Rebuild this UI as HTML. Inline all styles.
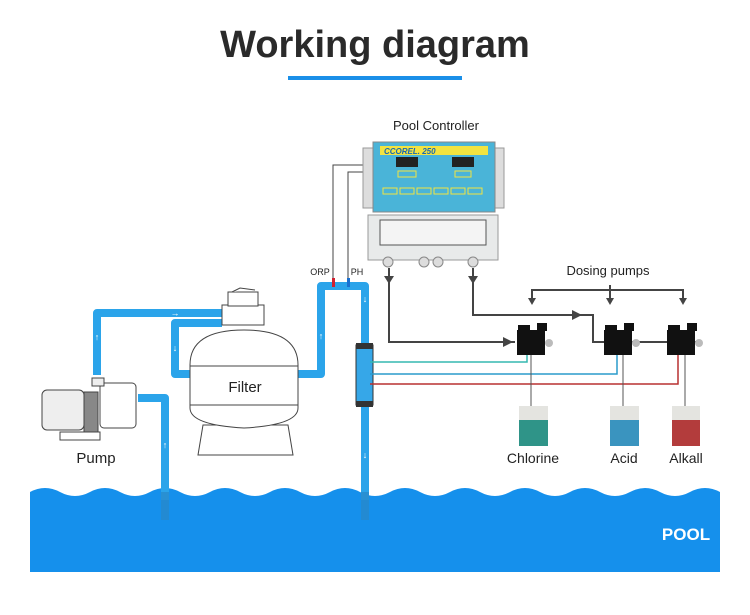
<!DOCTYPE html>
<html><head><meta charset="utf-8"><style>
html,body{margin:0;padding:0;background:#fff;}
svg{display:block;font-family:"Liberation Sans",sans-serif;}
</style></head><body>
<svg width="750" height="615" viewBox="0 0 750 615" xmlns="http://www.w3.org/2000/svg">
<rect width="750" height="615" fill="#fff"/>
<text x="375" y="57" text-anchor="middle" font-size="38" font-weight="bold" fill="#2a2a2a">Working diagram</text>
<rect x="288" y="76" width="174" height="4" fill="#1a8fe8"/>

<!-- pool -->
<path d="M30 492 Q45 484 60 492 T90 492 T120 492 T150 492 T180 492 T210 492 T240 492 T270 492 T300 492 T330 492 T360 492 T390 492 T420 492 T450 492 T480 492 T510 492 T540 492 T570 492 T600 492 T630 492 T660 492 T690 492 T720 492 L720 572 L30 572Z" fill="#1590ec"/>
<text x="686" y="540" text-anchor="middle" font-size="17" font-weight="bold" fill="#fff">POOL</text>

<!-- pipes -->
<g fill="none" stroke="#2ba4ea" stroke-width="8" stroke-linejoin="round">
<path d="M97 375 V313 H222"/>
<path d="M222 323 H175 V374 H192"/>
<path d="M298 374 H321 V286 H365 V500"/>
<path d="M138 398 H165 V500"/>
</g>
<rect x="161" y="492" width="8" height="28" fill="#2a88c8" opacity="0.7"/>
<rect x="361" y="492" width="8" height="28" fill="#2a88c8" opacity="0.7"/>
<g fill="#fff" font-size="9">
<text x="97" y="340" text-anchor="middle">↑</text>
<text x="165" y="448" text-anchor="middle">↑</text>
<text x="175" y="351" text-anchor="middle">↓</text>
<text x="321" y="339" text-anchor="middle">↑</text>
<text x="365" y="302" text-anchor="middle">↓</text>
<text x="365" y="458" text-anchor="middle">↓</text>
<text x="175" y="316" text-anchor="middle">→</text>
</g>

<!-- filter -->
<g stroke="#444" stroke-width="1" fill="#fff">
<path d="M198 455 L203 425 H288 L293 455Z"/>
<path d="M190 365 Q190 330 244 330 Q298 330 298 365 V408 Q298 425 244 428 Q190 425 190 408Z"/>
<line x1="190" y1="366" x2="298" y2="366"/>
<line x1="190" y1="405" x2="298" y2="405"/>
<rect x="222" y="305" width="42" height="20"/>
<rect x="228" y="292" width="30" height="14"/>
<path d="M232 292 L240 288 L255 290"/>
</g>
<text x="245" y="392" text-anchor="middle" font-size="15" fill="#222">Filter</text>

<!-- pump -->
<g stroke="#444" stroke-width="1" fill="#eee">
<rect x="42" y="390" width="42" height="40" rx="5"/>
<rect x="84" y="392" width="14" height="40" fill="#888"/>
<rect x="100" y="383" width="36" height="45" rx="4" fill="#fff"/>
<rect x="92" y="378" width="12" height="8"/>
<rect x="60" y="432" width="40" height="8" fill="#fff"/>
</g>
<text x="96" y="463" text-anchor="middle" font-size="15" fill="#222">Pump</text>

<!-- injector -->
<rect x="356" y="345" width="17" height="60" fill="#36a7e8" stroke="#333" stroke-width="1"/>
<rect x="356" y="343" width="17" height="6" fill="#333"/>
<rect x="356" y="401" width="17" height="6" fill="#333"/>

<!-- sensor wires -->
<g fill="none" stroke="#444" stroke-width="1">
<path d="M333 281 V165 H370"/>
<path d="M348 281 V172 H370"/>
</g>
<rect x="332" y="278" width="3" height="9" fill="#d02030"/>
<rect x="347" y="278" width="3" height="9" fill="#1a70d0"/>
<text x="320" y="275" text-anchor="middle" font-size="9" fill="#222">ORP</text>
<text x="357" y="275" text-anchor="middle" font-size="9" fill="#222">PH</text>

<!-- controller -->
<text x="436" y="130" text-anchor="middle" font-size="13" fill="#222">Pool Controller</text>
<rect x="368" y="215" width="130" height="45" fill="#e8eaea" stroke="#999"/>
<rect x="380" y="220" width="106" height="25" fill="#f4f4f4" stroke="#555"/>
<rect x="363" y="148" width="10" height="60" fill="#ddd" stroke="#999"/>
<rect x="494" y="148" width="10" height="60" fill="#ddd" stroke="#999"/>
<rect x="373" y="142" width="122" height="70" fill="#4ab4d8" stroke="#888"/>
<rect x="380" y="146" width="108" height="9" fill="#f2e340"/>
<text x="384" y="154" font-size="8" font-weight="bold" font-style="italic" fill="#1a6ab0">CCOREL. 250</text>
<rect x="396" y="157" width="22" height="10" fill="#222"/>
<rect x="452" y="157" width="22" height="10" fill="#222"/>
<g fill="none" stroke="#f2e340" stroke-width="1">
<rect x="398" y="171" width="18" height="6"/><rect x="455" y="171" width="16" height="6"/>
<rect x="383" y="188" width="14" height="6"/><rect x="400" y="188" width="14" height="6"/><rect x="417" y="188" width="14" height="6"/><rect x="434" y="188" width="14" height="6"/><rect x="451" y="188" width="14" height="6"/><rect x="468" y="188" width="14" height="6"/>
</g>
<g fill="#ddd" stroke="#888">
<circle cx="388" cy="262" r="5"/><circle cx="424" cy="262" r="5"/><circle cx="438" cy="262" r="5"/><circle cx="473" cy="262" r="5"/>
</g>

<!-- control lines -->
<g fill="none" stroke="#444" stroke-width="2">
<path d="M389 268 V342 H515"/>
<path d="M473 268 V315 H593 V342 H700"/>
<path d="M532 301 V290 H683 V301"/>
<path d="M610 285 V301"/>
</g>
<g fill="#444">
<path d="M384 276 H394 L389 284Z"/><path d="M468 276 H478 L473 284Z"/>
<path d="M528 298 H536 L532 305Z"/><path d="M606 298 H614 L610 305Z"/><path d="M679 298 H687 L683 305Z"/>
<path d="M503 337 L513 342 L503 347Z"/><path d="M572 310 L582 315 L572 320Z"/>
</g>
<text x="608" y="275" text-anchor="middle" font-size="13" fill="#222">Dosing pumps</text>

<!-- colored lines -->
<g fill="none" stroke-width="1.5">
<path d="M527 352 V362 H370" stroke="#35b8b0"/>
<path d="M617 352 V374 H370" stroke="#2a9ccc"/>
<path d="M678 352 V384 H370" stroke="#b83030"/>
</g>
<g fill="none" stroke="#555" stroke-width="1">
<path d="M531 352 V406"/><path d="M623 352 V406"/><path d="M685 352 V406"/>
</g>

<!-- dosing pumps -->
<g fill="#111">
<rect x="517" y="330" width="28" height="25"/><rect x="518" y="325" width="12" height="6"/><rect x="537" y="323" width="10" height="8"/>
<rect x="604" y="330" width="28" height="25"/><rect x="605" y="325" width="12" height="6"/><rect x="624" y="323" width="10" height="8"/>
<rect x="667" y="330" width="28" height="25"/><rect x="668" y="325" width="12" height="6"/><rect x="687" y="323" width="10" height="8"/>
</g>
<g fill="#bbb"><circle cx="549" cy="343" r="4"/><circle cx="636" cy="343" r="4"/><circle cx="699" cy="343" r="4"/></g>

<!-- bottles -->
<rect x="519" y="406" width="29" height="14" fill="#e4e4e0"/><rect x="519" y="420" width="29" height="26" fill="#2f9488"/>
<rect x="610" y="406" width="29" height="14" fill="#e4e4e0"/><rect x="610" y="420" width="29" height="26" fill="#3a94bf"/>
<rect x="672" y="406" width="28" height="14" fill="#e4e4e0"/><rect x="672" y="420" width="28" height="26" fill="#b33c3c"/>
<text x="533" y="463" text-anchor="middle" font-size="14" fill="#222">Chlorine</text>
<text x="624" y="463" text-anchor="middle" font-size="14" fill="#222">Acid</text>
<text x="686" y="463" text-anchor="middle" font-size="14" fill="#222">Alkall</text>
</svg>
</body></html>
